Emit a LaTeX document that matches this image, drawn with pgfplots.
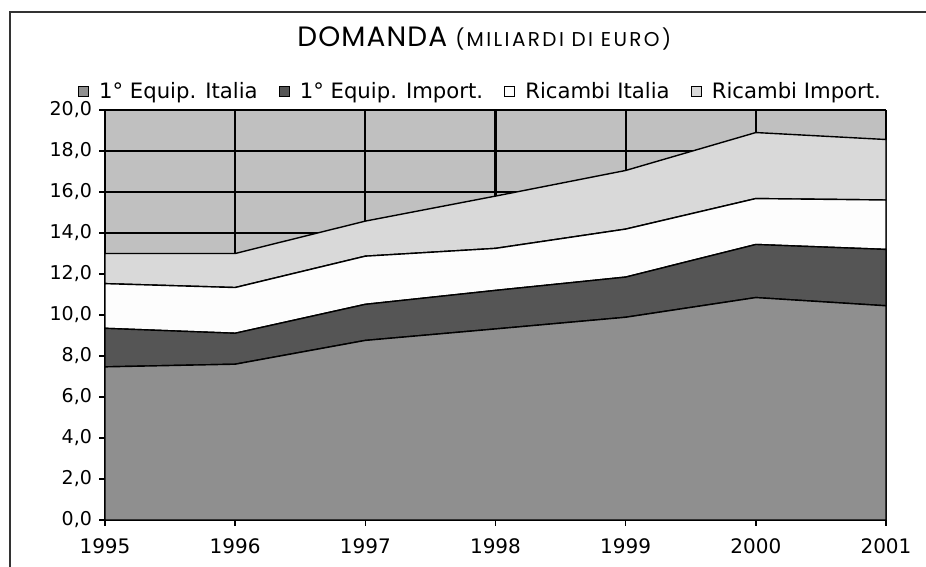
\documentclass[border=0pt]{standalone}
\usepackage{fontspec}
\setmainfont{DejaVu Sans}
\newfontfamily\titleA[LetterSpace=4]{Poppins}
\newfontfamily\titleB[LetterSpace=12]{Poppins}
\usepackage{pgfplots}
\pgfplotsset{compat=1.18}
\definecolor{bgc}{HTML}{C0C0C0}
\definecolor{itc}{HTML}{8F8F8F}
\definecolor{imc}{HTML}{555555}
\definecolor{ric}{HTML}{FDFDFD}
\definecolor{rim}{HTML}{D9D9D9}
\begin{document}
\begin{tikzpicture}
\path[use as bounding box] (0,0) rectangle (463pt,283.5pt);
\begin{scope}
\clip (0,0) rectangle (463pt,283.5pt);
\draw[line width=1pt, black!80] (5pt,-20pt) -- (5pt,277.5pt) -- (500pt,277.5pt);
\end{scope}
\node[anchor=base west, inner sep=0pt] at (148.5pt,260pt) {{\titleA\fontsize{14}{17}\selectfont DOMANDA}\hspace{4pt}{\titleB\fontsize{10}{12}\selectfont (MILIARDI DI EURO)}};
\begin{axis}[
  at={(52.5pt,23.5pt)}, anchor=south west,
  scale only axis, width=390.5pt, height=205pt,
  xmin=1995, xmax=2001, ymin=0, ymax=20,
  enlargelimits=false,
  xtick={1995,1996,1997,1998,1999,2000,2001},
  ytick={0,2,4,6,8,10,12,14,16,18,20},
  stack plots=y,
  axis x line*=bottom, axis y line*=left,
  axis line style={black, line width=0.8pt},
  axis background/.style={fill=bgc, draw=gray},
  grid=major, major grid style={black, line width=1.1pt},
  tick align=outside, major tick length=3pt,
  tick style={black, line width=0.7pt},
  /pgf/number format/assume math mode=true,
  yticklabel style={font=\fontsize{9.5}{11}\selectfont, /pgf/number format/.cd, fixed, fixed zerofill, precision=1, use comma},
  xticklabel style={font=\fontsize{10}{12}\selectfont, yshift=-3pt, /pgf/number format/1000 sep={}},
  legend columns=4,
  legend style={at={(0.482,1)}, anchor=center, yshift=9.25pt, draw=none, fill=none,
    font=\fontsize{10.6}{12}\selectfont,
    /tikz/every odd column/.append style={column sep=3pt},
    /tikz/every even column/.append style={column sep=8.5pt}},
  legend image code/.code={\draw[#1, draw=black, line width=0.6pt] (0pt,-2.5pt) rectangle (5pt,2.5pt);},
  every axis plot/.append style={draw=black, line width=0.7pt, mark=none},
]
\addplot[fill=itc] coordinates {(1995,7.47) (1996,7.60) (1997,8.76) (1998,9.32) (1999,9.89) (2000,10.85) (2001,10.45)} \closedcycle;
\addplot[fill=imc] coordinates {(1995,1.88) (1996,1.51) (1997,1.76) (1998,1.88) (1999,1.96) (2000,2.59) (2001,2.75)} \closedcycle;
\addplot[fill=ric] coordinates {(1995,2.18) (1996,2.23) (1997,2.35) (1998,2.05) (1999,2.34) (2000,2.24) (2001,2.41)} \closedcycle;
\addplot[fill=rim] coordinates {(1995,1.47) (1996,1.66) (1997,1.71) (1998,2.55) (1999,2.86) (2000,3.22) (2001,2.95)} \closedcycle;
\legend{1° Equip. Italia, 1° Equip. Import., Ricambi Italia, Ricambi Import.}
\end{axis}
\end{tikzpicture}
\end{document}
